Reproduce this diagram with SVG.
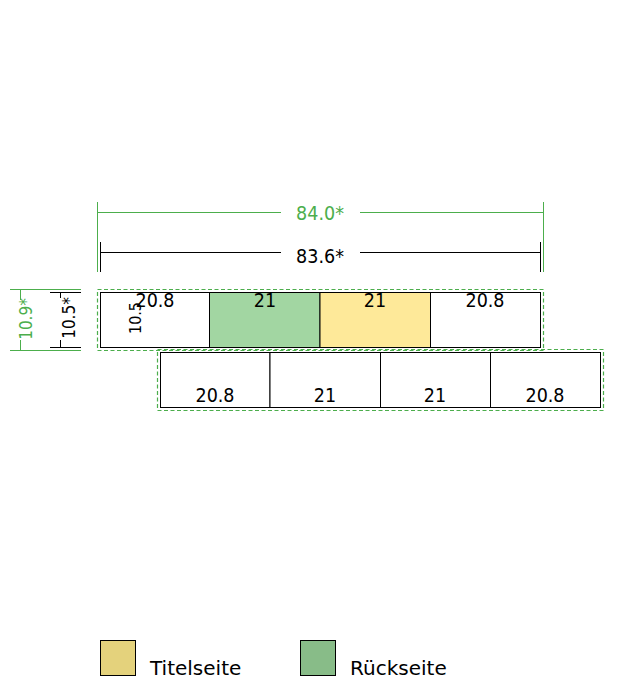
<svg xmlns="http://www.w3.org/2000/svg" width="640" height="680" viewBox="0 0 640 680">
<style>
text{font-family:"DejaVu Sans","Liberation Sans",sans-serif;}
.cond{font-family:"DejaVu Sans Condensed","DejaVu Sans",sans-serif;font-stretch:condensed;}
.cell{stroke:#000;stroke-width:1;}
.lbl{font-size:19.5px;fill:#000;text-anchor:middle;}
.dash{fill:none;stroke:#4cae4c;stroke-width:1.2;stroke-dasharray:4 2.5;}
.gd{stroke:#4cae4c;stroke-width:1;fill:none;}
.bd{stroke:#000;stroke-width:1;fill:none;}
.gt{fill:#4cae4c;text-anchor:middle;}
.bt{fill:#000;text-anchor:middle;}
</style>
<rect width="640" height="680" fill="#fff"/>
<g id="dimensions">
  <path class="gd" d="M97.5,202V272M543.5,202V272M97.5,212.5H281M360,212.5H543.5"/>
  <text class="gt cond" x="320" y="220" font-size="19.5">84.0*</text>
  <path class="bd" d="M100.5,242V272M540.5,242V272M100.5,252.5H281M360,252.5H540.5"/>
  <text class="bt cond" x="320" y="263" font-size="19.5">83.6*</text>
  <path class="gd" d="M10,289.5H81M10,350.5H81M20.5,289.5V300M20.5,340V350.5"/>
  <text class="gt cond" transform="translate(31.5,319) rotate(-90)" font-size="17">10.9*</text>
  <path class="bd" d="M50,292.5H81M50,347.5H81M60.5,292.5V298M60.5,340V347.5"/>
  <text class="bt cond" transform="translate(74.5,318) rotate(-90)" font-size="17">10.5*</text>
</g>
<g id="outlines">
  <rect class="dash" x="97.5" y="289.5" width="446" height="61"/>
  <rect class="dash" x="157.5" y="349.5" width="446" height="61"/>
</g>
<g id="row1">
  <g id="c1"><rect class="cell" x="100.5" y="292.5" width="109" height="55" fill="#fff"/><text class="lbl cond" x="155" y="306.5">20.8</text></g>
  <g id="c2"><rect class="cell" x="209.5" y="292.5" width="110.5" height="55" fill="#a2d6a2"/><text class="lbl cond" x="265" y="306.5">21</text></g>
  <g id="c3"><rect class="cell" x="320" y="292.5" width="110.5" height="55" fill="#fee999"/><text class="lbl cond" x="375" y="306.5">21</text></g>
  <g id="c4"><rect class="cell" x="430.5" y="292.5" width="110" height="55" fill="#fff"/><text class="lbl cond" x="485" y="306.5">20.8</text></g>
  <text class="bt cond" transform="translate(141,318) rotate(-90)" font-size="16">10.5</text>
</g>
<g id="row2">
  <g id="d1"><rect class="cell" x="160.5" y="352.5" width="109.5" height="55" fill="#fff"/><text class="lbl cond" x="215" y="402">20.8</text></g>
  <g id="d2"><rect class="cell" x="270" y="352.5" width="110.5" height="55" fill="#fff"/><text class="lbl cond" x="325" y="402">21</text></g>
  <g id="d3"><rect class="cell" x="380.5" y="352.5" width="110" height="55" fill="#fff"/><text class="lbl cond" x="435" y="402">21</text></g>
  <g id="d4"><rect class="cell" x="490.5" y="352.5" width="110" height="55" fill="#fff"/><text class="lbl cond" x="545" y="402">20.8</text></g>
</g>
<g id="legend">
  <g id="leg1"><rect x="100.5" y="640.5" width="35" height="35" fill="#e4d27c" stroke="#000"/><text x="150" y="675" font-size="20">Titelseite</text></g>
  <g id="leg2"><rect x="300.5" y="640.5" width="35" height="35" fill="#88bc88" stroke="#000"/><text x="350" y="675" font-size="20">Rückseite</text></g>
</g>
</svg>
